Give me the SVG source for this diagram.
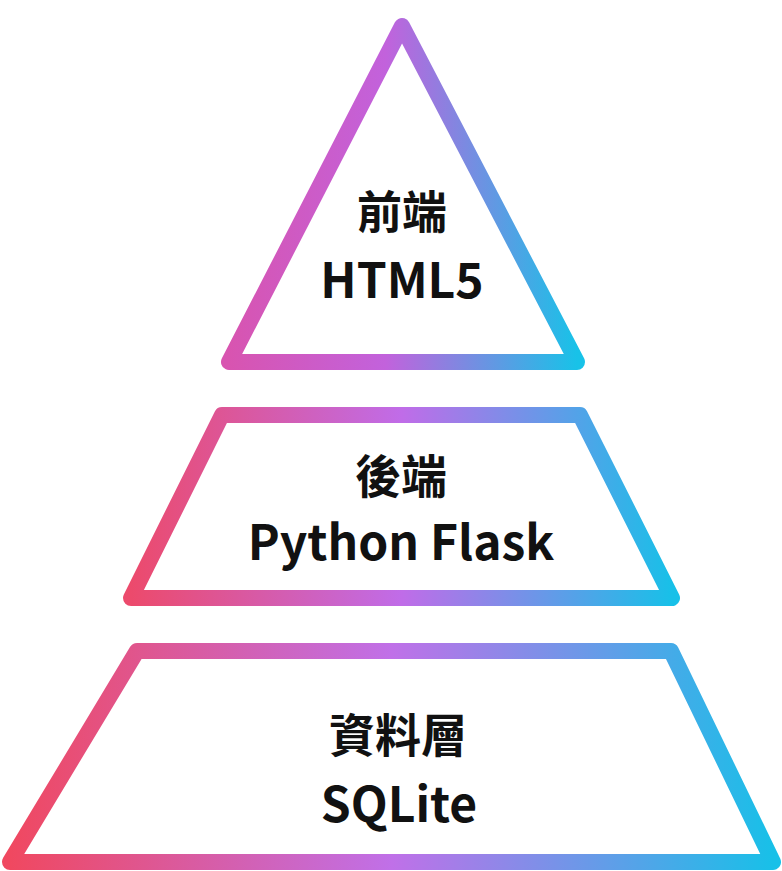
<svg xmlns="http://www.w3.org/2000/svg" width="782" height="871" viewBox="0 0 782 871">
<defs>
<linearGradient id="g1" x1="0" y1="0" x2="1" y2="0">
<stop offset="0" stop-color="#d854b0"/><stop offset="0.45" stop-color="#c262dc"/><stop offset="1" stop-color="#18c2e8"/>
</linearGradient>
<linearGradient id="g2" x1="0" y1="0" x2="1" y2="0">
<stop offset="0" stop-color="#ec4a6c"/><stop offset="0.5" stop-color="#c06ce8"/><stop offset="1" stop-color="#18c0e8"/>
</linearGradient>
<linearGradient id="g3" x1="0" y1="0" x2="1" y2="0">
<stop offset="0" stop-color="#f04860"/><stop offset="0.5" stop-color="#c070e8"/><stop offset="1" stop-color="#18c0e8"/>
</linearGradient>
</defs>
<style>
.shape{fill:#ffffff;stroke-width:16;stroke-linejoin:round}
.t{font-family:"Noto Sans CJK TC","Noto Sans CJK SC",sans-serif;font-weight:700;fill:#111111;text-anchor:middle}
</style>
<rect width="782" height="871" fill="#ffffff"/>
<g id="front">
<polygon class="shape" stroke="url(#g1)" points="402,26 229,362 577,362"/>
<text class="t" x="402" y="229" font-size="45">前端</text>
<text class="t" x="402" y="298" font-size="48">HTML5</text>
</g>
<g id="back">
<polygon class="shape" stroke="url(#g2)" points="222,415 580,415 672,598 131,598"/>
<text class="t" x="401" y="493" font-size="46">後端</text>
<text class="t" x="401" y="560" font-size="48">Python Flask</text>
</g>
<g id="data">
<polygon class="shape" stroke="url(#g3)" points="137,651 671,651 773,862 10,862"/>
<text class="t" x="398" y="752" font-size="46">資料層</text>
<text class="t" x="399" y="822" font-size="48">SQLite</text>
</g>
</svg>
